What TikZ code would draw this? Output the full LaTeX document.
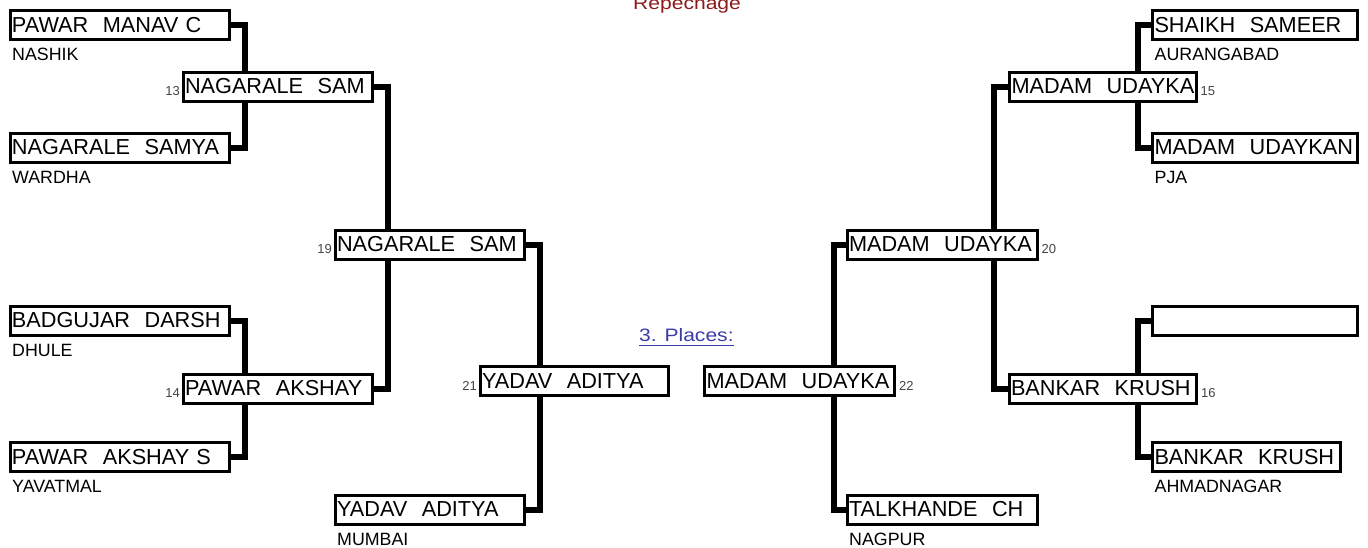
\documentclass[tikz,border=0pt]{standalone}
\usepackage{fontspec}
\setmainfont{Liberation Sans}
\usepackage{graphicx}
\usetikzlibrary{calc}
\definecolor{repred}{HTML}{8B1A1A}
\definecolor{linkblue}{HTML}{3B3BA6}
\definecolor{numgray}{HTML}{444444}
\begin{document}
\begin{tikzpicture}[x=1pt,y=-1pt,
  bx/.style={draw, line width=3pt, minimum height=29pt, inner ysep=0pt, inner xsep=2pt,
    text width=#1, align=left, anchor=north west, font=\fontsize{21.7}{21.7}\selectfont},
  city/.style={anchor=base west, inner sep=0pt, font=\fontsize{17.8}{17.8}\selectfont},
  numl/.style={anchor=base east, inner sep=0pt, text=numgray, font=\fontsize{13}{13}\selectfont},
  numr/.style={anchor=base west, inner sep=0pt, text=numgray, font=\fontsize{13}{13}\selectfont},
  hdr/.style={anchor=base west, inner sep=0pt, font=\fontsize{18}{18}\selectfont},
  conn/.style={line width=6pt, line join=miter},
]
\useasboundingbox (0,0) rectangle (1368,547);

% left outer column
\node[bx=215pt] (p1) at (8.5,9) {PAWAR~~MANAV C};
\node[bx=215pt] (p2) at (8.5,131.5) {NAGARALE~~SAMYA};
\node[bx=215pt] (p3) at (8.5,304.5) {BADGUJAR~~DARSH};
\node[bx=215pt] (p4) at (8.5,441) {PAWAR~~AKSHAY S};
\node[city] (c1) at ($(p1.south west)+(3.5,19.5)$) {NASHIK};
\node[city] (c2) at ($(p2.south west)+(3.5,19.5)$) {WARDHA};
\node[city] (c3) at ($(p3.south west)+(3.5,19.5)$) {DHULE};
\node[city] (c4) at ($(p4.south west)+(3.5,19.5)$) {YAVATMAL};

% left middle
\node[bx=185.5pt] (m13) at (181.5,70.5) {NAGARALE~~SAM};
\node[bx=185.5pt] (m14) at (181.5,372.5) {PAWAR~~AKSHAY};
\node[bx=185pt] (m19) at (333.5,228.5) {NAGARALE~~SAM};
\node[bx=185pt] (yb) at (333.5,493.5) {YADAV~~ADITYA};
\node[city] (c5) at ($(yb.south west)+(3.5,19.5)$) {MUMBAI};
\node[bx=184.5pt] (m21) at (478.5,365) {YADAV~~ADITYA};

\node[numl] (n13) at ($(m13.south west)+(-1.5,-7)$) {13};
\node[numl] (n14) at ($(m14.south west)+(-1.5,-7)$) {14};
\node[numl] (n19) at ($(m19.south west)+(-1.5,-7)$) {19};
\node[numl] (n21) at ($(m21.south west)+(-1.5,-7)$) {21};

% right middle
\node[bx=186pt] (m22) at (703,365) {MADAM~~UDAYKA};
\node[bx=186pt] (m20) at (845.5,228.5) {MADAM~~UDAYKA};
\node[bx=186pt] (tc) at (845.5,493.5) {TALKHANDE~~CH};
\node[city] (c6) at ($(tc.south west)+(3.5,19.5)$) {NAGPUR};
\node[bx=182.5pt] (m15) at (1008,70.5) {MADAM~~UDAYKA};
\node[bx=183.5pt] (m16) at (1007.5,372.5) {BANKAR~~KRUSH};

\node[numr] (n22) at ($(m22.south east)+(3,-7)$) {22};
\node[numr] (n20) at ($(m20.south east)+(3,-7)$) {20};
\node[numr] (n15) at ($(m15.south east)+(3,-7)$) {15};
\node[numr] (n16) at ($(m16.south east)+(3,-7)$) {16};

% right outer column
\node[bx=201pt] (r1) at (1151,9) {SHAIKH~~SAMEER};
\node[bx=201pt] (r2) at (1151,131.5) {MADAM~~UDAYKAN};
\node[bx=201pt] (r3) at (1151,304.5) {};
\node[bx=184pt] (r4) at (1151,441) {BANKAR~~KRUSH};
\node[city] (c7) at ($(r1.south west)+(3.5,19.5)$) {AURANGABAD};
\node[city] (c8) at ($(r2.south west)+(3.5,19.5)$) {PJA};
\node[city] (c9) at ($(r4.south west)+(3.5,19.5)$) {AHMADNAGAR};

% headers
\node[hdr, text=repred] (rep) at (633,9) {\scalebox{1.17}[1]{Repechage}};
\node[hdr, text=linkblue] (pl) at (639,341.5) {\scalebox{1.17}[1]{3. Places:}};
\draw[linkblue, line width=1pt] ($(pl.south west)+(0,3.5)$) -- ($(pl.south east)+(0,3.5)$);

% vertical line positions
\coordinate (vL1) at (245,0);
\coordinate (vL2) at (388,0);
\coordinate (vL3) at (540,0);
\coordinate (vR3) at (834,0);
\coordinate (vR2) at (994,0);
\coordinate (vR1) at (1138,0);

% connectors
\draw[conn] (p1.east) -| (vL1 |- m13.north);
\draw[conn] (p2.east) -| (vL1 |- m13.south);
\draw[conn] (p3.east) -| (vL1 |- m14.north);
\draw[conn] (p4.east) -| (vL1 |- m14.south);
\draw[conn] (m13.east) -| (vL2 |- m19.north);
\draw[conn] (m14.east) -| (vL2 |- m19.south);
\draw[conn] (m19.east) -| (vL3 |- m21.north);
\draw[conn] (yb.east) -| (vL3 |- m21.south);

\draw[conn] (m20.west) -| (vR3 |- m22.north);
\draw[conn] (tc.west) -| (vR3 |- m22.south);
\draw[conn] (m15.west) -| (vR2 |- m20.north);
\draw[conn] (m16.west) -| (vR2 |- m20.south);
\draw[conn] (r1.west) -| (vR1 |- m15.north);
\draw[conn] (r2.west) -| (vR1 |- m15.south);
\draw[conn] (r3.west) -| (vR1 |- m16.north);
\draw[conn] (r4.west) -| (vR1 |- m16.south);
\end{tikzpicture}
\end{document}
